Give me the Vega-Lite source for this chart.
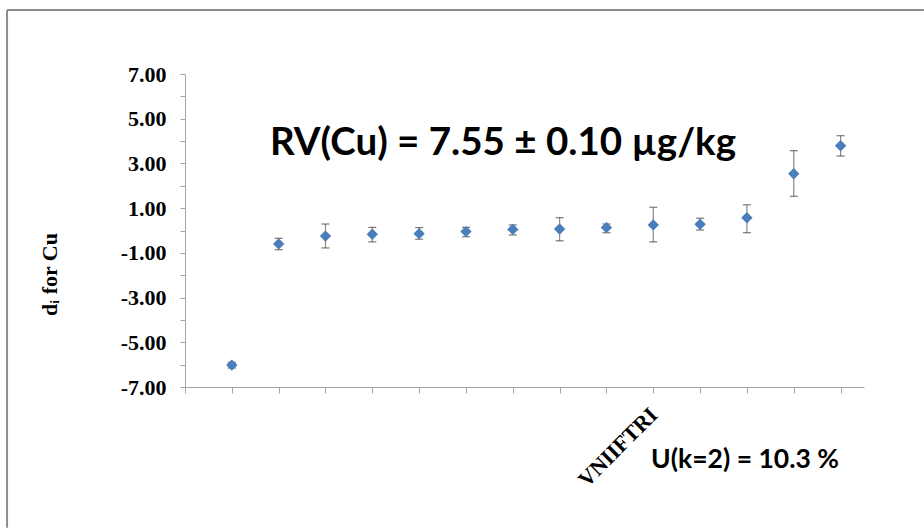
{
  "$schema": "https://vega.github.io/schema/vega-lite/v6.json",
  "width": 679,
  "height": 313,
  "autosize": {"type": "none"},
  "padding": {"left": 185, "top": 74, "right": 60, "bottom": 142},
  "background": "white",
  "config": {"view": {"stroke": null}},
  "datasets": {
    "pts": [
      {"lab": 1, "d": -6.02, "lo": -6.15, "hi": -5.9},
      {"lab": 2, "d": -0.6, "lo": -0.86, "hi": -0.35},
      {"lab": 3, "d": -0.25, "lo": -0.78, "hi": 0.29},
      {"lab": 4, "d": -0.17, "lo": -0.51, "hi": 0.14},
      {"lab": 5, "d": -0.14, "lo": -0.39, "hi": 0.13},
      {"lab": 6, "d": -0.05, "lo": -0.28, "hi": 0.14},
      {"lab": 7, "d": 0.05, "lo": -0.2, "hi": 0.25},
      {"lab": 8, "d": 0.07, "lo": -0.46, "hi": 0.57},
      {"lab": 9, "d": 0.13, "lo": -0.1, "hi": 0.29},
      {"lab": 10, "d": 0.25, "lo": -0.51, "hi": 1.04},
      {"lab": 11, "d": 0.28, "lo": 0.02, "hi": 0.55},
      {"lab": 12, "d": 0.57, "lo": -0.1, "hi": 1.15},
      {"lab": 13, "d": 2.54, "lo": 1.53, "hi": 3.57},
      {"lab": 14, "d": 3.79, "lo": 3.33, "hi": 4.24}
    ],
    "notes": [
      {"text": "RV(Cu) = 7.55 ± 0.10 µg/kg", "x": 6.79, "y": 3.38, "size": 38.5},
      {"text": "U(k=2) = 10.3 %", "x": 11.96, "y": -10.62, "size": 26.5}
    ],
    "frame": [
      {"x": -3.8, "y": 9.86, "x2": 15.78, "y2": -13.3}
    ]
  },
  "encoding": {
    "x": {
      "type": "quantitative",
      "scale": {"domain": [0, 14.5], "nice": false, "zero": false},
      "axis": {
        "title": null,
        "grid": false,
        "values": [0, 1, 2, 3, 4, 5, 6, 7, 8, 9, 10, 11, 12, 13, 14],
        "labelExpr": "datum.value == 10 ? 'VNIIFTRI' : ''",
        "labelAngle": -45,
        "labelAlign": "right",
        "labelBaseline": "middle",
        "labelFont": "Liberation Serif",
        "labelFontWeight": "bold",
        "labelFontSize": 22,
        "labelColor": "black",
        "labelPadding": 18,
        "labelOverlap": false,
        "labelFlush": false,
        "domainColor": "#a6a6a6",
        "tickColor": "#a6a6a6",
        "tickSize": 6
      }
    },
    "y": {
      "type": "quantitative",
      "scale": {"domain": [-7, 7], "nice": false, "zero": false},
      "axis": {
        "title": "dᵢ for Cu",
        "titleFont": "Liberation Serif",
        "titleFontWeight": "bold",
        "titleFontSize": 22,
        "titleColor": "black",
        "titleAngle": -90,
        "titleAlign": "center",
        "titleBaseline": "middle",
        "titleX": -136,
        "titleY": 200,
        "grid": false,
        "values": [-7, -6, -5, -4, -3, -2, -1, 0, 1, 2, 3, 4, 5, 6, 7],
        "labelExpr": "datum.value % 2 != 0 ? replace(format(datum.value, '.2f'), '\u2212', '-') : ''",
        "labelFont": "Liberation Serif",
        "labelFontWeight": "bold",
        "labelFontSize": 22,
        "labelColor": "black",
        "labelPadding": 14,
        "labelOverlap": false,
        "labelFlush": false,
        "domainColor": "#a6a6a6",
        "tickColor": "#a6a6a6",
        "tickSize": 5
      }
    }
  },
  "layer": [
    {
      "data": {"name": "frame"},
      "mark": {"type": "rule", "color": "#8c8c8c", "strokeWidth": 2, "clip": false},
      "encoding": {
        "x": {"field": "x"},
        "y": {"field": "y"},
        "y2": {"field": "y2"}
      }
    },
    {
      "data": {"name": "frame"},
      "mark": {"type": "rule", "color": "#8c8c8c", "strokeWidth": 2, "clip": false},
      "encoding": {
        "x": {"field": "x"},
        "x2": {"field": "x2"},
        "y": {"field": "y"}
      }
    },
    {
      "mark": {"type": "rule", "color": "#808080", "strokeWidth": 1.3},
      "encoding": {
        "x": {"datum": 0},
        "x2": {"datum": 14},
        "y": {"datum": 0}
      }
    },
    {
      "data": {"name": "pts"},
      "mark": {"type": "rule", "color": "#8a8a8a", "strokeWidth": 1.2},
      "encoding": {
        "x": {"field": "lab"},
        "y": {"field": "lo"},
        "y2": {"field": "hi"}
      }
    },
    {
      "data": {"name": "pts"},
      "mark": {"type": "tick", "orient": "horizontal", "color": "#404040", "size": 8, "thickness": 1.2},
      "encoding": {
        "x": {"field": "lab"},
        "y": {"field": "lo"}
      }
    },
    {
      "data": {"name": "pts"},
      "mark": {"type": "tick", "orient": "horizontal", "color": "#404040", "size": 8, "thickness": 1.2},
      "encoding": {
        "x": {"field": "lab"},
        "y": {"field": "hi"}
      }
    },
    {
      "data": {"name": "pts"},
      "mark": {"type": "point", "shape": "diamond", "filled": true, "color": "#4a7ebb", "opacity": 1, "size": 130},
      "encoding": {
        "x": {"field": "lab"},
        "y": {"field": "d"}
      }
    },
    {
      "data": {"name": "notes"},
      "mark": {"type": "text", "font": "Lato", "fontWeight": "bold", "color": "black", "align": "center", "baseline": "alphabetic", "clip": false},
      "encoding": {
        "x": {"field": "x"},
        "y": {"field": "y"},
        "text": {"field": "text"},
        "size": {"field": "size", "type": "quantitative", "scale": null}
      }
    }
  ]
}
